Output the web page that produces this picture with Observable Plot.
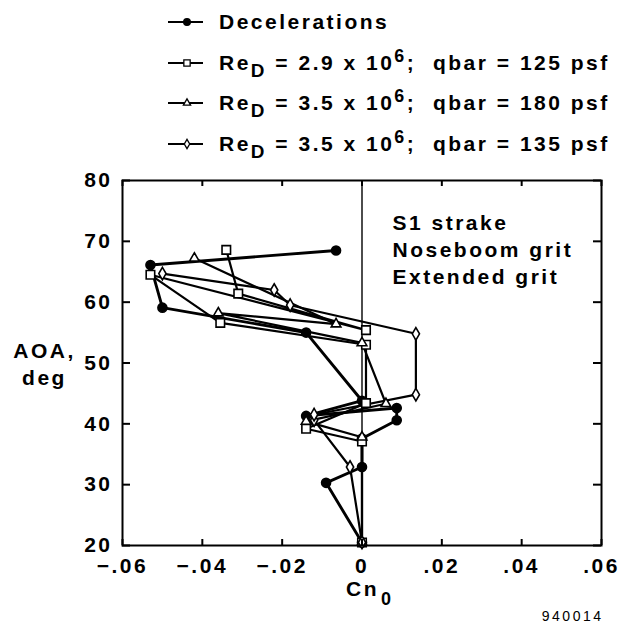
<!DOCTYPE html>
<html><head><meta charset="utf-8">
<script src="https://cdn.jsdelivr.net/npm/d3@7"></script>
<script src="https://cdn.jsdelivr.net/npm/@observablehq/plot@0.6"></script>
<style>
body{margin:0;background:#fff;font-family:"Liberation Sans",Arial,sans-serif;color:#000;}
#legend{position:relative;height:160px;width:622px;}
.row{position:absolute;left:168px;height:40px;display:flex;align-items:center;font-weight:bold;font-size:21px;letter-spacing:2.5px;white-space:pre;}
.row svg{margin-right:16px;overflow:visible;}
.row sub{font-size:0.9em;vertical-align:-0.38em;line-height:0;}
.row sup{font-size:0.85em;vertical-align:0.45em;line-height:0;}
#chart svg{display:block;}
</style></head>
<body>
<div id="legend"></div>
<div id="chart"></div>
<script>
// axis ticks
const cnTicks = [-0.06, -0.04, -0.02, 0, 0.02, 0.04, 0.06];
const cnTickLabels = ["\u2212.06", "\u2212.04", "\u2212.02", "0", ".02", ".04", ".06"];
const aoaTicks = [20, 30, 40, 50, 60, 70, 80];

// series values (Cn0, AOA deg)
const decelCn  = [0, -0.009, 0, 0, 0.0087, 0.0087, -0.014, 0, -0.014, -0.050, -0.053, -0.0065];
const decelAoa = [20.5, 30.3, 32.9, 37.6, 40.6, 42.6, 41.3, 43.8, 55.0, 59.1, 66.1, 68.5];
const re29Cn  = [0, 0, -0.014, 0.001, 0.001, -0.0355, -0.053, 0.001, -0.031, -0.034];
const re29Aoa = [20.5, 37.1, 39.2, 43.4, 53.0, 56.6, 64.5, 55.4, 61.4, 68.6];
const re35q180Cn  = [0, 0, -0.014, 0.006, 0, -0.036, -0.0065, -0.042];
const re35q180Aoa = [20.5, 37.8, 40.4, 43.3, 53.3, 58.2, 56.4, 67.2];
const re35q135Cn  = [0, -0.003, -0.012, -0.012, 0.0135, 0.0135, -0.018, -0.022, -0.050];
const re35q135Aoa = [20.5, 32.9, 40.6, 41.5, 44.8, 54.8, 59.5, 62.0, 64.7];

const seriesLabels = [
  "Decelerations",
  "Re<sub>D</sub> = 2.9 x 10<sup>6</sup>;  qbar = 125 psf",
  "Re<sub>D</sub> = 3.5 x 10<sup>6</sup>;  qbar = 180 psf",
  "Re<sub>D</sub> = 3.5 x 10<sup>6</sup>;  qbar = 135 psf"
];
const noteLines = "S1 strake\nNoseboom grit\nExtended grit";
const yTitle = "AOA,\ndeg";
const xTitle = "Cn";
const xTitleSub = "0";
const figureId = "940014";

const series = [
  {key: "decel", cn: decelCn, aoa: decelAoa, symbol: "circle", fill: "black", r: 4.5, sw: 2.9},
  {key: "re29", cn: re29Cn, aoa: re29Aoa, symbol: "square", fill: "white", r: 4.8, sw: 2.2},
  {key: "re35a", cn: re35q180Cn, aoa: re35q180Aoa, symbol: "triangle", fill: "white", r: 3.6, sw: 2.2},
  {key: "re35b", cn: re35q135Cn, aoa: re35q135Aoa, symbol: "diamond", fill: "white", r: 3.8, sw: 2.2}
];

// legend
const legend = d3.select("#legend");
series.forEach((s, i) => {
  const row = legend.append("div").attr("class", "row").style("top", (2 + i * 40.7) + "px");
  const sv = row.append("svg").attr("width", 35).attr("height", 20);
  sv.append("line").attr("x1", 0).attr("x2", 35).attr("y1", 10).attr("y2", 10)
    .attr("stroke", "black").attr("stroke-width", 2);
  const size = s.r * s.r * Math.PI * 0.55;
  sv.append("path").attr("transform", "translate(19,10)")
    .attr("d", d3.symbol(d3["symbol" + s.symbol[0].toUpperCase() + s.symbol.slice(1)], size)())
    .attr("fill", s.fill).attr("stroke", "black").attr("stroke-width", 1.3);
  row.append("span").html(seriesLabels[i]);
});

const rows = series.flatMap(s => s.cn.map((c, j) => ({key: s.key, cn: c, aoa: s.aoa[j], i: j})));

const bold = {fontFamily: "Liberation Sans, Arial, sans-serif", fontWeight: "bold", fontSize: 21};

const W = 622, H = 463, mT = 20, mB = 78, mL = 122, mR = 21;
const frameW = W - mL - mR, frameH = H - mT - mB;

const marks = [
  Plot.ruleX([0], {stroke: "black", strokeWidth: 1.4}),
  ...series.map(s => Plot.line(rows.filter(d => d.key === s.key), {x: "cn", y: "aoa", stroke: "black", strokeWidth: s.sw, strokeLinejoin: "round"})),
  ...series.map(s => Plot.dot(rows.filter(d => d.key === s.key), {x: "cn", y: "aoa", symbol: () => s.symbol, r: s.r, fill: s.fill, stroke: "black", strokeWidth: 1.6})),
  // inward ticks
  Plot.tickY(aoaTicks, {y: d => d, stroke: "black", strokeWidth: 2, insetRight: frameW - 8}),
  Plot.tickY(aoaTicks, {y: d => d, stroke: "black", strokeWidth: 2, insetLeft: frameW - 8}),
  Plot.tickX(cnTicks, {x: d => d, stroke: "black", strokeWidth: 2, insetTop: frameH - 6}),
  Plot.tickX(cnTicks, {x: d => d, stroke: "black", strokeWidth: 2, insetBottom: frameH - 6}),
  Plot.frame({stroke: "black", strokeWidth: 2}),
  // tick labels
  Plot.axisY(aoaTicks, {anchor: "left", tickSize: 0, tickPadding: 10, label: null, ...bold}),
  Plot.axisX(cnTicks, {anchor: "bottom", tickSize: 0, tickPadding: 13, label: null, tickFormat: (d, i) => cnTickLabels[i], ...bold}),
  // annotations
  Plot.text([noteLines], {frameAnchor: "top-left", dx: 270, dy: 30, lineAnchor: "top", lineHeight: 1.29, textAnchor: "start", ...bold}),
  Plot.text([yTitle], {frameAnchor: "left", dx: -78, dy: 0, lineHeight: 1.3, textAnchor: "middle", ...bold}),
  Plot.text([xTitle], {frameAnchor: "bottom", dx: 17, dy: 50, textAnchor: "end", ...bold}),
  Plot.text([xTitleSub], {frameAnchor: "bottom", dx: 19, dy: 59, textAnchor: "start", ...bold, fontSize: 18}),
  Plot.text([figureId], {frameAnchor: "bottom-right", dx: 2, dy: 75, textAnchor: "end", fontFamily: "Liberation Sans, Arial, sans-serif", fontSize: 14, style: "letter-spacing:0px"})
];

const chart = Plot.plot({
  width: W,
  height: H,
  marginTop: mT,
  marginBottom: mB,
  marginLeft: mL,
  marginRight: mR,
  x: {domain: [-0.06, 0.06], label: null},
  y: {domain: [20, 80], label: null},
  style: {fontFamily: "Liberation Sans, Arial, sans-serif", letterSpacing: "2.5px", color: "black", background: "white", overflow: "visible"},
  marks
});
document.getElementById("chart").appendChild(chart);
</script>
</body></html>
